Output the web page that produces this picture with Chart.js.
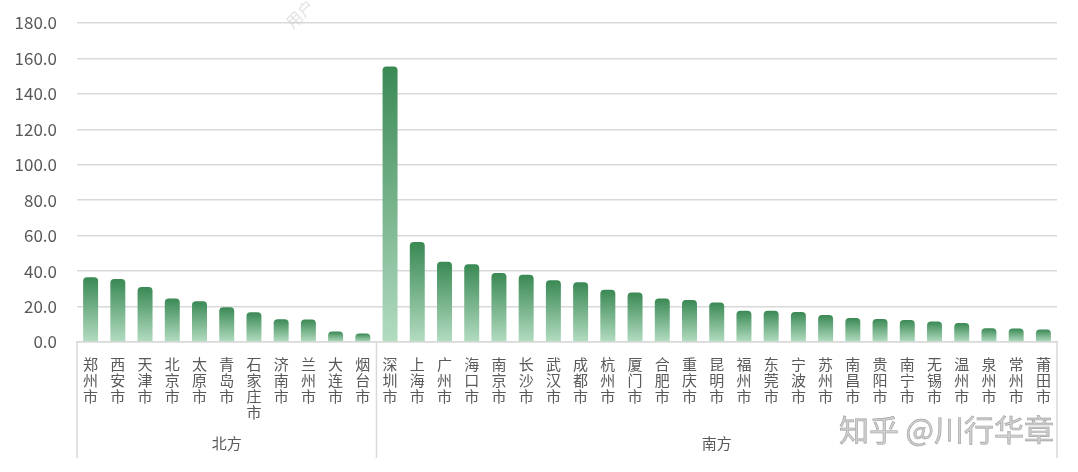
<!DOCTYPE html>
<html>
<head>
<meta charset="utf-8">
<script src="https://cdn.jsdelivr.net/npm/chart.js@4/dist/chart.umd.min.js"></script>
<style>
  html, body { margin: 0; padding: 0; background: #fff; }
  #wrap { width: 1078px; height: 472px; }
</style>
</head>
<body>
<div id="wrap"><canvas id="my-chart"></canvas></div>
<script>
const northCities = ['郑州市', '西安市', '天津市', '北京市', '太原市', '青岛市', '石家庄市', '济南市', '兰州市', '大连市', '烟台市'];
const northValues = [36.5, 35.5, 31.0, 24.6, 23.0, 19.6, 16.8, 12.9, 12.7, 5.9, 4.8];
const southCities = ['深圳市', '上海市', '广州市', '海口市', '南京市', '长沙市', '武汉市', '成都市', '杭州市', '厦门市', '合肥市', '重庆市', '昆明市',
  '福州市', '东莞市', '宁波市', '苏州市', '南昌市', '贵阳市', '南宁市', '无锡市', '温州市', '泉州市', '常州市', '莆田市'];
const southValues = [155.5, 56.4, 45.3, 43.9, 39.0, 38.0, 34.8, 33.7, 29.5, 28.0, 24.6, 23.7, 22.3,
  17.7, 17.7, 16.9, 15.2, 13.5, 13.0, 12.4, 11.6, 10.7, 7.8, 7.6, 7.1];
const groupNames = ['北方', '南方'];
const yTicks = [0, 20, 40, 60, 80, 100, 120, 140, 160, 180];

const labels = northCities.concat(southCities).map(c => c.split(''));
const values = northValues.concat(southValues);

const fontFamily = '"Noto Sans CJK SC", "Noto Sans", sans-serif';
const textColor = '#595959';
const lineColor = '#d9d9d9';

function barGradient(context) {
  const chart = context.chart;
  if (!chart.chartArea || context.raw === undefined) return '#4a9462';
  const y = chart.scales.y;
  const top = y.getPixelForValue(context.raw);
  const base = y.getPixelForValue(0);
  const g = chart.ctx.createLinearGradient(0, top, 0, base);
  g.addColorStop(0, '#3a8954');
  g.addColorStop(1, '#b3dcc1');
  return g;
}

// group labels under the city labels, with separators
const groupPlugin = {
  id: 'groups',
  afterDraw(chart) {
    const { ctx, chartArea } = chart;
    const x = chart.scales.x;
    const split = (x.getPixelForValue(northCities.length - 1) + x.getPixelForValue(northCities.length)) / 2;
    const edges = [chartArea.left, split, chartArea.right];
    const yTop = chartArea.bottom;
    const yBottom = chart.height - 14;
    ctx.save();
    ctx.strokeStyle = lineColor;
    ctx.lineWidth = 1.5;
    edges.forEach(px => {
      ctx.beginPath();
      ctx.moveTo(px, yTop);
      ctx.lineTo(px, yBottom);
      ctx.stroke();
    });
    ctx.fillStyle = textColor;
    ctx.font = '15px ' + fontFamily;
    ctx.textAlign = 'center';
    ctx.textBaseline = 'middle';
    groupNames.forEach((name, i) => {
      ctx.fillText(name, (edges[i] + edges[i + 1]) / 2, yBottom - 15);
    });

    // watermarks
    ctx.font = '30px ' + fontFamily;
    ctx.textAlign = 'right';
    ctx.fillStyle = '#d0d0d0';
    ctx.strokeStyle = '#a0a0a0';
    ctx.lineWidth = 0.6;
    ctx.fillText('知乎 @川行华章', 1054, 430);
    ctx.strokeText('知乎 @川行华章', 1054, 430);

    ctx.translate(300, 14);
    ctx.rotate(-Math.PI / 4);
    ctx.font = '16px ' + fontFamily;
    ctx.textAlign = 'center';
    ctx.fillStyle = 'rgba(190,190,190,0.45)';
    ctx.fillText('用户', 0, 0);
    ctx.restore();
  }
};

const ctx = document.getElementById('my-chart').getContext('2d');
const chart = new Chart(ctx, {
  type: 'bar',
  data: {
    labels: labels,
    datasets: [
      {
        data: values,
        backgroundColor: barGradient,
        borderRadius: { topLeft: 4, topRight: 4 },
        borderSkipped: 'bottom',
        barPercentage: 0.55,
        categoryPercentage: 1
      }
    ]
  },
  options: {
    responsive: true,
    maintainAspectRatio: false,
    animation: false,
    layout: { padding: { top: 23, right: 21, left: 0, bottom: 0 } },
    plugins: {
      legend: { display: false },
      tooltip: { enabled: false }
    },
    scales: {
      x: {
        grid: { display: false },
        border: { display: true, color: lineColor, width: 1.5 },
        ticks: {
          color: textColor,
          font: { family: fontFamily, size: 15, lineHeight: 1.08 },
          padding: 6,
          maxRotation: 0,
          minRotation: 0,
          autoSkip: false
        },
        afterFit(scale) { scale.height = 130; scale.paddingLeft = 0; scale.paddingRight = 0; }
      },
      y: {
        min: 0,
        max: 180,
        afterBuildTicks(scale) { scale.ticks = yTicks.map(v => ({ value: v })); },
        grid: { color: lineColor, lineWidth: 1.5, drawTicks: false },
        border: { display: false },
        ticks: {
          color: textColor,
          font: { family: fontFamily, size: 17 },
          padding: 20,
          callback: v => Number(v).toFixed(1)
        },
        afterFit(scale) { scale.width = 77; scale.paddingTop = 0; scale.paddingBottom = 0; }
      }
    }
  },
  plugins: [groupPlugin]
});
</script>
</body>
</html>
